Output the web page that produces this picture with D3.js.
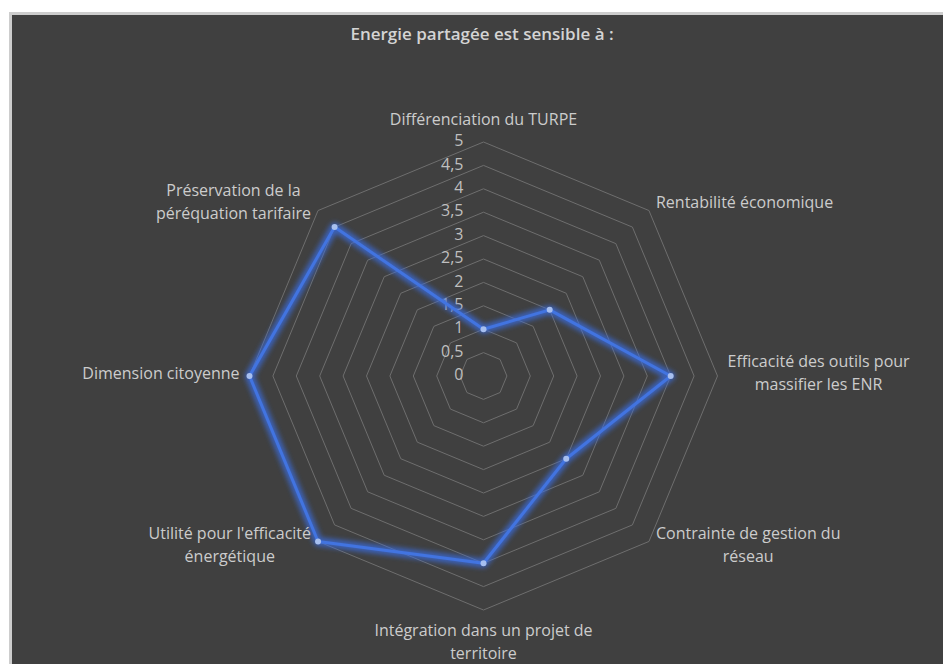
<!DOCTYPE html>
<html>
<head>
<meta charset="utf-8">
<script src="https://cdn.jsdelivr.net/npm/d3@7"></script>
<style>
	body {
		margin: 0;
		background: #fff;
	}

	svg {
		display: block;
		font-family: "Open Sans", sans-serif;
	}

	.grid path {
		fill: none;
		stroke: #6e6e6e;
		stroke-width: 1;
	}

	text.tick {
		font-size: 16px;
		fill: #bfbfbf;
	}

	text.label {
		font-size: 16px;
		fill: #cccccc;
	}

	text.title {
		font-size: 17px;
		font-weight: 600;
		fill: #d4d4d4;
	}
</style>
</head>
<body>
<div id="chart"></div>
<script>
const title = "Energie partagée est sensible à :";

const categories = [
	"Différenciation du TURPE",
	"Rentabilité économique",
	"Efficacité des outils pour\nmassifier les ENR",
	"Contrainte de gestion du\nréseau",
	"Intégration dans un projet de\nterritoire",
	"Utilité pour l'efficacité\nénergétique",
	"Dimension citoyenne",
	"Préservation de la\npéréquation tarifaire"
];

const values = [1, 2, 4, 2.5, 4, 5, 5, 4.5];

const ticks = [0, 0.5, 1, 1.5, 2, 2.5, 3, 3.5, 4, 4.5, 5];

const width = 943;
const height = 664;
const cx = 483.5;
const cy = 376;
const radius = 234;
const lineHeight = 23;

const fr = d3.formatLocale({ decimal: ",", thousands: " ", grouping: [3], currency: ["", " €"] });
const fmt = fr.format(".1~f");

const svg = d3.select("#chart")
	.append("svg")
	.attr("width", width)
	.attr("height", height);

// chart area with its light border (top/left only visible)
svg.append("rect")
	.attr("x", 10.5)
	.attr("y", 13.5)
	.attr("width", width)
	.attr("height", height)
	.attr("fill", "#404040")
	.attr("stroke", "#cdcdcd")
	.attr("stroke-width", 3);

const defs = svg.append("defs");
defs.append("filter")
	.attr("id", "glow")
	.attr("x", "-20%").attr("y", "-20%")
	.attr("width", "140%").attr("height", "140%")
	.append("feGaussianBlur")
	.attr("stdDeviation", 2.5);

svg.append("text")
	.attr("class", "title")
	.attr("x", 482)
	.attr("y", 35)
	.attr("text-anchor", "middle")
	.attr("dominant-baseline", "middle")
	.text(title);

const r = d3.scaleLinear()
	.domain([0, 5])
	.range([0, radius]);

const angle = d3.scalePoint()
	.domain(d3.range(categories.length + 1))
	.range([0, 2 * Math.PI]);

const chart = svg.append("g")
	.attr("transform", `translate(${cx}, ${cy})`);

// octagonal rings
const ring = d3.lineRadial()
	.angle((d, i) => angle(i))
	.radius(d => r(d))
	.curve(d3.curveLinearClosed);

chart.append("g")
	.attr("class", "grid")
	.selectAll("path")
	.data(ticks.filter(t => t > 0))
	.enter()
	.append("path")
	.attr("d", t => ring(categories.map(() => t)));

// tick labels on the vertical axis
chart.append("g")
	.selectAll("text")
	.data(ticks)
	.enter()
	.append("text")
	.attr("class", "tick")
	.attr("x", -20)
	.attr("y", t => -r(t))
	.attr("text-anchor", "end")
	.attr("dominant-baseline", "middle")
	.text(t => fmt(t));

// series line with glow
const series = d3.lineRadial()
	.angle((d, i) => angle(i))
	.radius(d => r(d))
	.curve(d3.curveLinearClosed);

chart.append("path")
	.attr("d", series(values))
	.attr("fill", "none")
	.attr("stroke", "#3b6ee0")
	.attr("stroke-opacity", 0.75)
	.attr("stroke-width", 9)
	.attr("stroke-linejoin", "round")
	.attr("filter", "url(#glow)");

chart.append("path")
	.attr("d", series(values))
	.attr("fill", "none")
	.attr("stroke", "#4274e0")
	.attr("stroke-width", 3)
	.attr("stroke-linejoin", "round");

chart.append("g")
	.selectAll("circle")
	.data(values)
	.enter()
	.append("circle")
	.attr("cx", (d, i) => r(d) * Math.sin(angle(i)))
	.attr("cy", (d, i) => -r(d) * Math.cos(angle(i)))
	.attr("r", 3)
	.attr("fill", "#a7bfef");

// category labels
const labels = chart.append("g")
	.selectAll("text")
	.data(categories)
	.enter()
	.append("text")
	.attr("class", "label")
	.attr("text-anchor", "middle");

labels.each(function(c, i) {
	const t = d3.select(this);
	const lines = c.split("\n");
	lines.forEach(l => t.append("tspan").text(l));

	const w = d3.max(t.selectAll("tspan").nodes(), n => n.getComputedTextLength());
	const a = angle(i);
	const s = Math.sin(a);
	const co = Math.cos(a);
	const vx = r(5) * s;
	const vy = -r(5) * co;
	const h = lines.length * lineHeight;
	const diag = Math.abs(s) > 0.1 && Math.abs(co) > 0.1;

	let x = vx;
	if (s > 0.1) x = vx + (diag ? 7 : 10) + w / 2;
	if (s < -0.1) x = vx - (diag ? 7 : 10) - w / 2;

	let y;
	if (!diag && Math.abs(co) > 0.9) y = vy - co * (10 + h / 2);
	else if (diag) y = vy - (co > 0 ? 7 : -5);
	else y = vy - 1.5;

	const top = y - h / 2 + lineHeight / 2;
	t.selectAll("tspan")
		.attr("x", x)
		.attr("y", (d, j) => top + j * lineHeight)
		.attr("dominant-baseline", "middle");
});
</script>
</body>
</html>
